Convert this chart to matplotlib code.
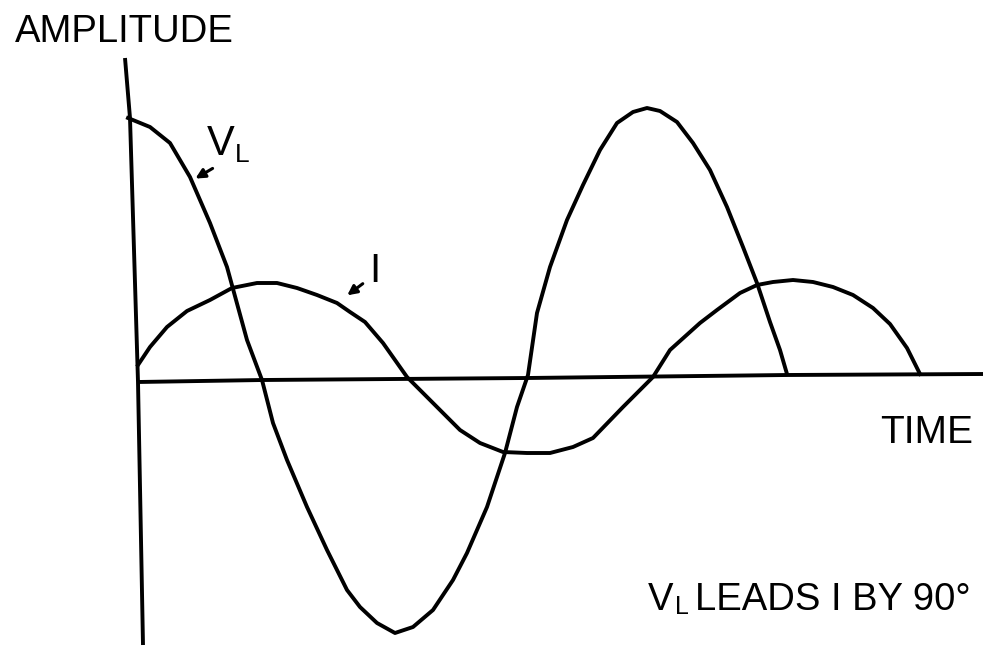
import matplotlib
matplotlib.use("Agg")
import matplotlib.pyplot as plt

# define font
plt.rcParams["font.family"] = ["Liberation Sans", "DejaVu Sans"]

# define curve V_L (time, amplitude)
vl_time = [-10, 12, 32, 52, 72, 89, 109, 124, 135, 149, 169, 189, 209, 222, 239,
           257, 275, 295, 315, 329, 349, 367, 379, 390, 399, 412, 429, 445, 462,
           479, 495, 509, 522, 539, 555, 572, 589, 605, 619, 632, 642, 649]
vl_amp = [263, 254, 238, 204, 158, 114, 41, 1, -42, -79, -126, -169, -209, -226,
          -242, -252, -246, -229, -199, -172, -126, -72, -26, 6, 68, 114, 161,
          196, 231, 258, 269, 273, 270, 259, 238, 211, 174, 134, 98, 59, 31, 7]

# define curve I
i_time = [0, 12, 29, 49, 72, 94, 119, 139, 159, 179, 199, 212, 227, 245, 269,
          285, 309, 322, 342, 365, 389, 412, 435, 455, 485, 515, 532, 562, 579,
          602, 619, 635, 655, 675, 695, 715, 735, 752, 769, 782]
i_amp = [16, 34, 54, 70, 81, 93, 98, 98, 93, 86, 78, 69, 59, 38, 4, -12, -36,
         -49, -62, -71, -72, -72, -66, -57, -26, 4, 31, 58, 71, 88, 96, 99, 101,
         99, 94, 86, 73, 57, 33, 7]

# define hand drawn axes
yaxis_time = [-13, -8, 0, 5]
yaxis_amp = [323, 263, -1, -264]
xaxis_time = [0, 125, 389, 649, 845]
xaxis_amp = [-1, 1, 3, 6, 7]

# plotting
fig = plt.figure(figsize=(9.9, 6.49), dpi=100)
ax = fig.add_axes([0, 0, 1, 1])
ax.set_xlim(-138, 852)
ax.set_ylim(-268, 381)
ax.axis("off")

lw = 2.8
ax.plot(yaxis_time, yaxis_amp, color="black", lw=lw, solid_capstyle="butt")
ax.plot(xaxis_time, xaxis_amp, color="black", lw=lw, solid_capstyle="butt")
ax.plot(vl_time, vl_amp, color="black", lw=lw, solid_joinstyle="round")
ax.plot(i_time, i_amp, color="black", lw=lw, solid_joinstyle="round")

# arrows pointing at the curves
arrow = dict(arrowstyle="-|>", color="black", lw=2.2, mutation_scale=14)
ax.annotate("", xy=(55, 201), xytext=(77, 214), arrowprops=arrow)
ax.annotate("", xy=(207, 84), xytext=(227, 99), arrowprops=arrow)

# labels
ax.text(-123, 339, "AMPLITUDE", fontsize=27.5, ha="left", va="baseline")
ax.text(69, 226, "V", fontsize=30, ha="left", va="baseline")
ax.text(97, 219, "L", fontsize=19, ha="left", va="baseline")
ax.text(237, 99, "I", fontsize=29, ha="center", va="baseline")
ax.text(742, -62, "TIME", fontsize=28, ha="left", va="baseline")
ax.text(510, -229, "V", fontsize=27.5, ha="left", va="baseline")
ax.text(537, -233, "L", fontsize=18, ha="left", va="baseline")
ax.text(557, -229, "LEADS I BY 90°", fontsize=27.5, ha="left", va="baseline")

# save figure
fig.savefig("out.png", format="png", dpi=100)
